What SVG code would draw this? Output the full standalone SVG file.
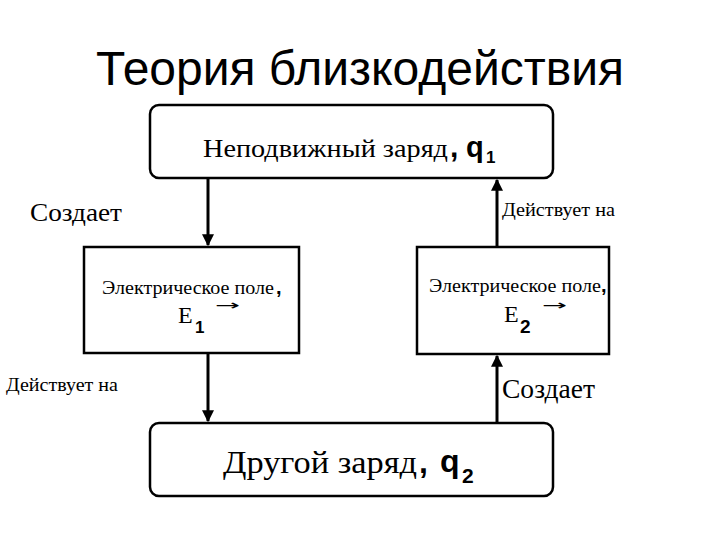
<svg xmlns="http://www.w3.org/2000/svg" width="720" height="540" viewBox="0 0 720 540">
<defs>
<style>
.box{fill:#fff;stroke:#000;stroke-width:2.5}
.serif{font-family:"Liberation Serif","DejaVu Serif",serif;fill:#000}
.sans{font-family:"Liberation Sans","DejaVu Sans",sans-serif;fill:#000}
.b{font-weight:bold;font-family:"Liberation Sans","DejaVu Sans",sans-serif;fill:#000}
.vec{font-family:"DejaVu Sans",sans-serif;fill:#000}
.conn{stroke:#000;stroke-width:3;fill:none;marker-end:url(#ah)}
</style>
<marker id="ah" viewBox="0 0 10 10" refX="9" refY="5" markerWidth="4" markerHeight="5" orient="auto" markerUnits="strokeWidth">
<path d="M0,0 L10,5 L0,10 Z" fill="#000"/>
</marker>
</defs>
<rect width="720" height="540" fill="#fff"/>
<text class="sans" x="360" y="85" font-size="48" text-anchor="middle">Теория близкодействия</text>

<g id="connectors">
<line class="conn" x1="208" y1="179" x2="208" y2="245"/>
<line class="conn" x1="208" y1="354" x2="208" y2="421"/>
<line class="conn" x1="497" y1="246" x2="497" y2="180"/>
<line class="conn" x1="497" y1="422" x2="497" y2="356"/>
<text class="serif" x="30" y="221" font-size="26" textLength="92" lengthAdjust="spacingAndGlyphs">Создает</text>
<text class="serif" x="6" y="391" font-size="19" textLength="112" lengthAdjust="spacingAndGlyphs">Действует на</text>
<text class="serif" x="502" y="216" font-size="19" textLength="113" lengthAdjust="spacingAndGlyphs">Действует на</text>
<text class="serif" x="502" y="398" font-size="27" textLength="93" lengthAdjust="spacingAndGlyphs">Создает</text>
</g>

<g id="q1">
<rect class="box" x="150" y="105" width="403" height="73" rx="9"/>
<text class="serif" x="203" y="157" font-size="26" textLength="245" lengthAdjust="spacingAndGlyphs">Неподвижный заряд</text>
<text class="b" x="450" y="157" font-size="30">,</text>
<text class="b" x="466" y="157" font-size="29">q</text>
<text class="b" x="486" y="163" font-size="17">1</text>
</g>

<g id="e1">
<rect class="box" x="84" y="247" width="215" height="106"/>
<text class="serif" x="102" y="294" font-size="19" textLength="172" lengthAdjust="spacingAndGlyphs">Электрическое поле</text>
<text class="b" x="276" y="294" font-size="20">,</text>
<text class="vec" x="215" y="310" font-size="14" textLength="25" lengthAdjust="spacingAndGlyphs">→</text>
<text class="serif" x="178" y="323" font-size="24">E</text>
<text class="b" x="195" y="333" font-size="17">1</text>
</g>

<g id="e2">
<rect class="box" x="417" y="247" width="192" height="107"/>
<text class="serif" x="429" y="292" font-size="19" textLength="172" lengthAdjust="spacingAndGlyphs">Электрическое поле</text>
<text class="b" x="601" y="292" font-size="20">,</text>
<text class="vec" x="542" y="310" font-size="14" textLength="25" lengthAdjust="spacingAndGlyphs">→</text>
<text class="serif" x="504" y="322" font-size="24">E</text>
<text class="b" x="520" y="333" font-size="19">2</text>
</g>

<g id="q2">
<rect class="box" x="150" y="423" width="403" height="73" rx="9"/>
<text class="serif" x="223" y="473" font-size="31" textLength="194" lengthAdjust="spacingAndGlyphs">Другой заряд</text>
<text class="b" x="419" y="473" font-size="32">,</text>
<text class="b" x="440" y="472" font-size="32">q</text>
<text class="b" x="462" y="483" font-size="21">2</text>
</g>
</svg>
